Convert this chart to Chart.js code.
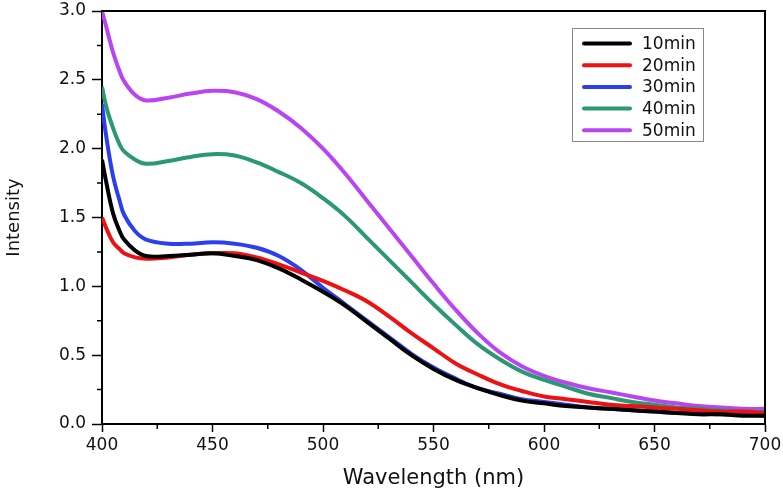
<!DOCTYPE html>
<html>
<head>
<meta charset="utf-8">
<script src="https://cdn.jsdelivr.net/npm/chart.js@4.4.0/dist/chart.umd.min.js"></script>
<style>
    html, body { margin: 0; padding: 0; background: #fff; }
    #wrap { width: 783px; height: 491px; }
</style>
</head>
<body>
<div id="wrap"><canvas id="absChart" width="783" height="491"></canvas></div>
<script>
// Wavelengths (nm) shared by all series
const wavelengths = [400, 402, 405, 408, 410, 415, 420, 430, 440, 450, 460, 470, 480, 490, 500, 510, 520, 530, 540, 550,
    560, 570, 580, 590, 600, 610, 620, 630, 640, 650, 660, 670, 680, 690, 700];

const min10 = [1.92, 1.75, 1.53, 1.40, 1.34, 1.26, 1.22, 1.22, 1.23, 1.24, 1.22, 1.19, 1.13, 1.05, 0.96, 0.86, 0.74, 0.62, 0.50, 0.40,
    0.32, 0.26, 0.21, 0.17, 0.15, 0.13, 0.12, 0.11, 0.10, 0.09, 0.08, 0.07, 0.07, 0.06, 0.06];
const min20 = [1.50, 1.42, 1.32, 1.27, 1.24, 1.21, 1.20, 1.21, 1.23, 1.24, 1.24, 1.21, 1.16, 1.10, 1.04, 0.97, 0.89, 0.78, 0.66, 0.55,
    0.44, 0.36, 0.29, 0.24, 0.20, 0.18, 0.16, 0.14, 0.13, 0.12, 0.11, 0.10, 0.09, 0.09, 0.08];
const min30 = [2.32, 2.08, 1.80, 1.62, 1.52, 1.40, 1.34, 1.31, 1.31, 1.32, 1.31, 1.28, 1.22, 1.12, 0.99, 0.87, 0.75, 0.63, 0.51, 0.41,
    0.33, 0.26, 0.22, 0.18, 0.16, 0.14, 0.12, 0.11, 0.10, 0.09, 0.08, 0.08, 0.07, 0.07, 0.06];
const min40 = [2.45, 2.30, 2.15, 2.03, 1.98, 1.92, 1.89, 1.91, 1.94, 1.96, 1.95, 1.90, 1.83, 1.75, 1.64, 1.51, 1.35, 1.19, 1.03, 0.87,
    0.72, 0.58, 0.47, 0.38, 0.32, 0.27, 0.22, 0.19, 0.16, 0.14, 0.12, 0.11, 0.10, 0.09, 0.09];
const min50 = [3.00, 2.88, 2.70, 2.56, 2.49, 2.39, 2.35, 2.37, 2.40, 2.42, 2.41, 2.36, 2.27, 2.15, 2.00, 1.82, 1.62, 1.42, 1.22, 1.02,
    0.83, 0.66, 0.52, 0.42, 0.35, 0.30, 0.26, 0.23, 0.20, 0.17, 0.15, 0.13, 0.12, 0.11, 0.11];

const seriesLabels = ['10min', '20min', '30min', '40min', '50min'];
const seriesValues = [min10, min20, min30, min40, min50];
const seriesColors = ['#000000', '#ee1111', '#2b3fee', '#2a9775', '#bb44f2'];

const xTicks = [400, 450, 500, 550, 600, 650, 700];
const yTicks = [0.0, 0.5, 1.0, 1.5, 2.0, 2.5, 3.0];

const FONT = "'DejaVu Sans', sans-serif";

function toPoints(values) {
    return values.map(function(v, i) { return { x: wavelengths[i], y: v }; });
}

// Frame, minor ticks and the legend box
const decorPlugin = {
    id: 'decor',
    afterDraw: function(chart) {
        const ctx = chart.ctx;
        const area = chart.chartArea;
        const xs = chart.scales.x;
        const ys = chart.scales.y;
        ctx.save();
        ctx.strokeStyle = '#000';
        ctx.lineWidth = 2;
        ctx.beginPath();
        ctx.moveTo(area.left, area.top);
        ctx.lineTo(area.right, area.top);
        ctx.lineTo(area.right, area.bottom);
        ctx.stroke();

        // minor ticks half way between the labelled ones
        ctx.lineWidth = 1.5;
        ctx.beginPath();
        for (let i = 0; i < xTicks.length - 1; i++) {
            const px = xs.getPixelForValue((xTicks[i] + xTicks[i + 1]) / 2);
            ctx.moveTo(px, area.bottom);
            ctx.lineTo(px, area.bottom + 5);
        }
        for (let i = 0; i < yTicks.length - 1; i++) {
            const py = ys.getPixelForValue((yTicks[i] + yTicks[i + 1]) / 2);
            ctx.moveTo(area.left, py);
            ctx.lineTo(area.left - 5, py);
        }
        ctx.stroke();

        // legend
        const lx = 572, ly = 28, lw = 131, lh = 113;
        ctx.fillStyle = '#fff';
        ctx.fillRect(lx, ly, lw, lh);
        ctx.strokeStyle = '#888';
        ctx.lineWidth = 1;
        ctx.strokeRect(lx + 0.5, ly + 0.5, lw, lh);
        ctx.font = '17px ' + FONT;
        ctx.textBaseline = 'middle';
        ctx.lineCap = 'round';
        chart.data.datasets.forEach(function(ds, i) {
            const rowY = 43.5 + i * 21.7;
            ctx.strokeStyle = ds.borderColor;
            ctx.lineWidth = 4;
            ctx.beginPath();
            ctx.moveTo(584, rowY);
            ctx.lineTo(630, rowY);
            ctx.stroke();
            ctx.fillStyle = '#111';
            ctx.fillText(ds.label, 642, rowY + 1);
        });
        ctx.restore();
    }
};

const ctxAbs = document.getElementById('absChart').getContext('2d');
const absChart = new Chart(ctxAbs, {
    type: 'line',
    data: {
        datasets: seriesLabels.map(function(label, i) {
            return {
                label: label,
                data: toPoints(seriesValues[i]),
                borderColor: seriesColors[i],
                backgroundColor: seriesColors[i],
                borderWidth: 4,
                pointRadius: 0,
                tension: 0.4,
                fill: false,
            };
        })
    },
    options: {
        responsive: false,
        animation: false,
        layout: {
            padding: { top: 11, right: 18, left: 0, bottom: 0 }
        },
        scales: {
            x: {
                type: 'linear',
                min: 400,
                max: 700,
                afterBuildTicks: function(scale) {
                    scale.ticks = xTicks.map(function(v) { return { value: v }; });
                },
                afterFit: function(scale) {
                    scale.height = 67;
                    scale.paddingLeft = 0;
                    scale.paddingRight = 0;
                },
                grid: { drawOnChartArea: false, tickLength: 8, tickWidth: 1.5, tickColor: '#000' },
                border: { color: '#000', width: 2 },
                ticks: {
                    color: '#111',
                    font: { family: FONT, size: 17 },
                    padding: 3,
                    maxRotation: 0,
                },
                title: {
                    display: true,
                    text: 'Wavelength (nm)',
                    color: '#111',
                    font: { family: FONT, size: 21 },
                    padding: { top: 2, bottom: 0 }
                }
            },
            y: {
                min: 0,
                max: 3,
                afterBuildTicks: function(scale) {
                    scale.ticks = yTicks.map(function(v) { return { value: v }; });
                },
                afterFit: function(scale) {
                    scale.width = 102;
                    scale.paddingTop = 0;
                    scale.paddingBottom = 0;
                },
                grid: { drawOnChartArea: false, tickLength: 10, tickWidth: 1.5, tickColor: '#000' },
                border: { color: '#000', width: 2 },
                ticks: {
                    color: '#111',
                    font: { family: FONT, size: 17 },
                    padding: 6,
                    callback: function(v) { return v.toFixed(1); }
                },
                title: {
                    display: true,
                    text: 'Intensity',
                    color: '#111',
                    font: { family: FONT, size: 18 },
                    padding: { top: 4, bottom: 0 }
                }
            }
        },
        plugins: {
            legend: { display: false },
            tooltip: { enabled: false }
        }
    },
    plugins: [decorPlugin]
});
</script>
</body>
</html>
